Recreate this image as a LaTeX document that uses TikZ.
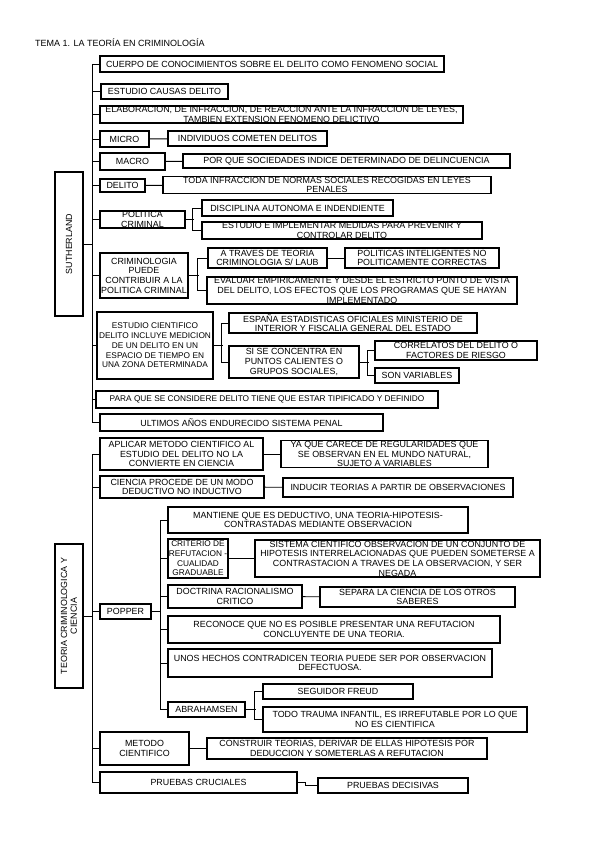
\documentclass[tikz,border=0pt]{standalone}
\usepackage{fontspec}
\setmainfont{Liberation Sans}

\begin{document}
\begin{tikzpicture}[x = 1pt, y = -1pt,
	caja/.style = {draw, line width = 1.1pt, inner sep = 0.5pt, align = center, font = \fontsize{8.9}{9.7}\selectfont},
	medida/.style 2 args = {minimum width = #1pt, minimum height = #2pt},
	chica/.style = {font = \fontsize{8.3}{9.7}\selectfont},
	linea/.style = {line width = 0.9pt}]
	\useasboundingbox (0,0) rectangle (599,848);
	\node (titulo) at (35,43) [anchor = west, inner sep = 0, font = \fontsize{9}{10}\selectfont] {TEMA 1. LA TEORÍA EN CRIMINOLOGÍA};
	% sutherland
	\node (suth) at (69,244) [caja, rotate = 90, medida = {144}{28}] {SUTHERLAND};
	\node (cuerpo) at (272,64) [caja, medida = {344}{16}] {CUERPO DE CONOCIMIENTOS SOBRE EL DELITO COMO FENOMENO SOCIAL};
	\node (causas) at (164.5,91.5) [caja, medida = {127}{15}] {ESTUDIO CAUSAS DELITO};
	\node (elab) at (281.5,114.5) [caja, medida = {363}{17}] {ELABORACION, DE INFRACCION, DE REACCION ANTE LA INFRACCION DE LEYES,\\TAMBIEN EXTENSION FENOMENO DELICTIVO};
	\node (micro) at (124.5,139) [caja, medida = {49}{16}] {MICRO};
	\node (indiv) at (247.5,138.5) [caja, medida = {159}{15}] {INDIVIDUOS COMETEN DELITOS};
	\node (macro) at (132.5,161.5) [caja, medida = {65}{17}] {MACRO};
	\node (porque) at (346.5,161) [caja, medida = {327}{14}] {POR QUE SOCIEDADES INDICE DETERMINADO DE DELINCUENCIA};
	\node (delito) at (122.5,185.5) [caja, medida = {45}{13}] {DELITO};
	\node (toda) at (327,185) [caja, medida = {328}{16}] {TODA INFRACCION DE NORMAS SOCIALES RECOGIDAS EN LEYES\\PENALES};
	\node (polit) at (142.5,219.5) [caja, medida = {85}{17}] {POLITICA\\CRIMINAL};
	\node (disc) at (297.5,208) [caja, medida = {191}{16}] {DISCIPLINA AUTONOMA E INDENDIENTE};
	\node (implem) at (342,230.5) [caja, medida = {280}{17}] {ESTUDIO E IMPLEMENTAR MEDIDAS PARA PREVENIR Y\\CONTROLAR DELITO};
	\node (puede) at (144,275.5) [caja, medida = {88}{45}] {CRIMINOLOGIA\\PUEDE\\CONTRIBUIR A LA\\POLITICA CRIMINAL};
	\node (laub) at (267.5,258) [caja, medida = {119}{20}] {A TRAVES DE TEORIA\\CRIMINOLOGIA S/ LAUB};
	\node (inteli) at (422,258) [caja, medida = {154}{20}] {POLITICAS INTELIGENTES NO\\POLITICAMENTE CORRECTAS};
	\node (evaluar) at (362,290.5) [caja, medida = {310}{27}] {EVALUAR EMPIRICAMENTE Y DESDE EL ESTRICTO PUNTO DE VISTA\\DEL DELITO, LOS EFECTOS QUE LOS PROGRAMAS QUE SE HAYAN\\IMPLEMENTADO};
	\node (medicion) at (155,345.5) [caja, chica, medida = {116}{67}] {ESTUDIO CIENTIFICO\\DELITO INCLUYE MEDICION\\DE UN DELITO EN UN\\ESPACIO DE TIEMPO EN\\UNA ZONA DETERMINADA};
	\node (espana) at (353,323) [caja, medida = {248}{20}] {ESPAÑA ESTADISTICAS OFICIALES MINISTERIO DE\\INTERIOR Y FISCALIA GENERAL DEL ESTADO};
	\node (calientes) at (294,362) [caja, medida = {130}{32}] {SI SE CONCENTRA EN\\PUNTOS CALIENTES O\\GRUPOS SOCIALES,};
	\node (correl) at (456,350.5) [caja, medida = {162}{19}] {CORRELATOS DEL DELITO O\\FACTORES DE RIESGO};
	\node (variables) at (417,375.5) [caja, medida = {84}{15}] {SON VARIABLES};
	\node (tipif) at (267,399.5) [caja, chica, medida = {342}{17}] {PARA QUE SE CONSIDERE DELITO TIENE QUE ESTAR TIPIFICADO Y DEFINIDO};
	\node (ultimos) at (241.5,422.5) [caja, medida = {283}{17}] {ULTIMOS AÑOS ENDURECIDO SISTEMA PENAL};
	% teoria criminologica y ciencia
	\node (teoria) at (69,616) [caja, rotate = 90, medida = {144}{28}] {TEORIA CRIMINOLOGICA Y\\CIENCIA};
	\node (aplicar) at (181.5,454) [caja, medida = {163}{32}] {APLICAR METODO CIENTIFICO AL\\ESTUDIO DEL DELITO NO LA\\CONVIERTE EN CIENCIA};
	\node (yaque) at (384.5,454) [caja, medida = {207}{26}] {YA QUE CARECE DE REGULARIDADES QUE\\SE OBSERVAN EN EL MUNDO NATURAL,\\SUJETO A VARIABLES};
	\node (deduct) at (182,487) [caja, medida = {164}{22}] {CIENCIA PROCEDE DE UN MODO\\DEDUCTIVO NO INDUCTIVO};
	\node (inducir) at (398,487.5) [caja, medida = {230}{19}] {INDUCIR TEORIAS A PARTIR DE OBSERVACIONES};
	\node (popper) at (125.5,611.5) [caja, medida = {51}{15}] {POPPER};
	\node (mantiene) at (318,520) [caja, medida = {300}{26}] {MANTIENE QUE ES DEDUCTIVO, UNA TEORIA-HIPOTESIS-\\CONTRASTADAS MEDIANTE OBSERVACION};
	\node (criterio) at (198,558.5) [caja, chica, medida = {60}{39}] {CRITERIO DE\\REFUTACION -\\CUALIDAD\\GRADUABLE};
	\node (sistema) at (397.5,558.5) [caja, medida = {285}{37}] {SISTEMA CIENTIFICO OBSERVACION DE UN CONJUNTO DE\\HIPOTESIS INTERRELACIONADAS QUE PUEDEN SOMETERSE A\\CONTRASTACION A TRAVES DE LA OBSERVACION, Y SER\\NEGADA};
	\node (doctrina) at (235,596.5) [caja, medida = {134}{23}] {DOCTRINA RACIONALISMO\\CRITICO};
	\node (separa) at (417.5,597) [caja, medida = {195}{20}] {SEPARA LA CIENCIA DE LOS OTROS\\SABERES};
	\node (reconoce) at (334,629.5) [caja, medida = {332}{27}] {RECONOCE QUE NO ES POSIBLE PRESENTAR UNA REFUTACION\\CONCLUYENTE DE UNA TEORIA.};
	\node (hechos) at (330,663) [caja, medida = {324}{28}] {UNOS HECHOS CONTRADICEN TEORIA PUEDE SER POR OBSERVACION\\DEFECTUOSA.};
	\node (freud) at (338,691.5) [caja, medida = {150}{15}] {SEGUIDOR FREUD};
	\node (abrah) at (206.5,709.5) [caja, medida = {77}{15}] {ABRAHAMSEN};
	\node (trauma) at (395,719.5) [caja, medida = {264}{25}] {TODO TRAUMA INFANTIL, ES IRREFUTABLE POR LO QUE\\NO ES CIENTIFICA};
	\node (metodo) at (144.5,748.5) [caja, medida = {89}{33}] {METODO\\CIENTIFICO};
	\node (construir) at (347,748.5) [caja, medida = {280}{21}] {CONSTRUIR TEORIAS, DERIVAR DE ELLAS HIPOTESIS POR\\DEDUCCION Y SOMETERLAS A REFUTACION};
	\node (cruciales) at (198.5,782.5) [caja, medida = {197}{21}] {PRUEBAS CRUCIALES};
	\node (decisivas) at (393,785.5) [caja, medida = {150}{15}] {PRUEBAS DECISIVAS};
	% ejes
	\coordinate (eje1) at (92,64);
	\coordinate (eje2) at (92,454);
	\coordinate (eje3) at (160,520);
	\draw [linea] (eje1 |- cuerpo.west) -- (eje1 |- ultimos.west);
	\foreach \n in {cuerpo, causas, elab, micro, macro, delito, polit, puede, medicion, tipif, ultimos}
	\draw [linea] (\n.west) -- (eje1 |- \n.west);
	\draw [linea] (suth.south) -- (eje1 |- suth.south);
	\draw [linea] (eje2 |- aplicar.west) -- (eje2 |- cruciales.west);
	\foreach \n in {aplicar, deduct, popper, metodo, cruciales}
	\draw [linea] (\n.west) -- (eje2 |- \n.west);
	\draw [linea] (teoria.south) -- (eje2 |- teoria.south);
	\draw [linea] (eje3 |- mantiene.west) -- (eje3 |- abrah.west);
	\foreach \n in {mantiene, criterio, doctrina, reconoce, hechos, abrah}
	\draw [linea] (\n.west) -- (eje3 |- \n.west);
	\draw [linea] (popper.east) -- (eje3 |- popper.east);
	% ramas
	\draw [linea] (micro) -- (indiv);
	\draw [linea] (macro) -- (porque);
	\draw [linea] (delito) -- (toda);
	\draw [linea] (laub) -- (inteli);
	\draw [linea] (aplicar) -- (yaque);
	\draw [linea] (deduct) -- (inducir);
	\draw [linea] (criterio) -- (sistema);
	\draw [linea] (doctrina) -- (separa);
	\draw [linea] (metodo) -- (construir);
	\draw [linea] (polit.east) -- ++(8,0);
	\draw [linea] (disc.west) -- ++(-9,0) |- (implem.west);
	\draw [linea] (puede.east) -- ++(10,0);
	\draw [linea] (laub.west) -- ++(-10,0) |- (evaluar.west);
	\draw [linea] (medicion.east) -- ++(9,0);
	\draw [linea] (espana.west) -- ++(-7,0) |- (calientes.west);
	\draw [linea] (calientes.east) -- ++(9,0);
	\draw [linea] (correl.west) -- ++(-7,0) |- (variables.west);
	\draw [linea] (abrah.east) -- ++(10,0);
	\draw [linea] (freud.west) -- ++(-8,0) |- (trauma.west);
	\draw [linea] (cruciales.east) -- ++(8,0) |- (decisivas.west);
\end{tikzpicture}
\end{document}
